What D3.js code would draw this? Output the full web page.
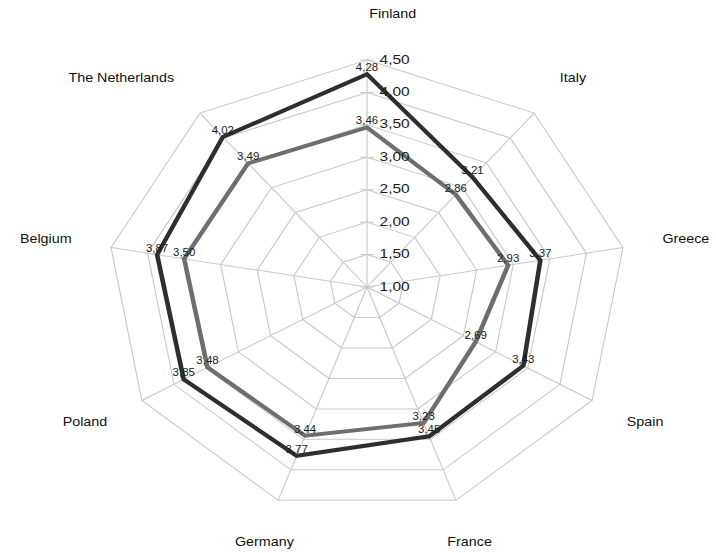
<!DOCTYPE html>
<html><head><meta charset="utf-8">
<script src="https://cdn.jsdelivr.net/npm/d3@7"></script>
<style>body{margin:0;background:#fff}</style></head><body>
<script>
const categories = ["Finland","Italy","Greece","Spain","France","Germany","Poland","Belgium","The Netherlands"];
const seriesDark = [4.28,3.21,3.37,3.43,3.45,3.77,3.85,3.87,4.02];
const seriesGray = [3.46,2.86,2.93,2.69,3.23,3.44,3.48,3.50,3.49];
const tickValues = [1.00,1.50,2.00,2.50,3.00,3.50,4.00,4.50];

const W = 716, H = 553;
const cx = 367, cy = 287, stretch = 1.145, R = 227;
const svg = d3.select("body").append("svg").attr("width", W).attr("height", H)
  .style("font-family", "'Liberation Sans', Arial, sans-serif");
const g = svg.append("g").attr("transform", `translate(${cx},${cy}) scale(${stretch},1)`);

const r = d3.scaleLinear().domain([1, 4.5]).range([0, R]);
const n = categories.length;
const ang = d3.scaleLinear().domain([0, n]).range([0, 2 * Math.PI]);
const pt = (i, v) => [r(v) * Math.sin(ang(i)), -r(v) * Math.cos(ang(i))];
const fmt = v => d3.format(".2f")(v).replace(".", ",");
const idx = d3.range(n);

// grid rings
const ring = d3.line().curve(d3.curveLinearClosed);
g.selectAll("path.ring").data(tickValues.slice(1)).enter().append("path")
  .attr("class", "ring")
  .attr("d", v => ring(idx.map(i => pt(i, v))))
  .attr("fill", "none").attr("stroke", "#c8c8c8").attr("stroke-width", 1);

// spokes
g.selectAll("line.spoke").data(idx).enter().append("line")
  .attr("x1", 0).attr("y1", 0)
  .attr("x2", i => pt(i, 4.5)[0]).attr("y2", i => pt(i, 4.5)[1])
  .attr("stroke", "#c8c8c8").attr("stroke-width", 1);

// tick marks on vertical axis
g.selectAll("line.tick").data(tickValues).enter().append("line")
  .attr("x1", -6).attr("x2", 6)
  .attr("y1", v => -r(v)).attr("y2", v => -r(v))
  .attr("stroke", "#c8c8c8").attr("stroke-width", 1);

// series
const series = [
  {vals: seriesDark, color: "#2e2e2e"},
  {vals: seriesGray, color: "#6e6e6e"}
];
series.forEach(s => {
  g.append("path")
    .attr("d", ring(s.vals.map((v, i) => pt(i, v))))
    .attr("fill", "none").attr("stroke", s.color)
    .attr("stroke-width", 4).attr("stroke-linejoin", "miter");
});

// tick labels
g.selectAll("text.tl").data(tickValues).enter().append("text")
  .attr("x", 11).attr("y", v => -r(v))
  .attr("dominant-baseline", "middle")
  .attr("font-size", 13.5).attr("fill", "#1a1a1a")
  .text(fmt);

// data labels
series.forEach(s => {
  g.selectAll(null).data(s.vals).enter().append("text")
    .attr("x", (v, i) => pt(i, v)[0])
    .attr("y", (v, i) => pt(i, v)[1] - 3)
    .attr("text-anchor", "middle")
    .attr("font-size", 10).attr("fill", "#1a1a1a")
    .text(fmt);
});

// category labels
g.selectAll("text.cat").data(categories).enter().append("text")
  .attr("x", (c, i) => i === 0 ? 2 : 262 * Math.sin(ang(i)))
  .attr("y", (c, i) => -272 * Math.cos(ang(i)))
  .attr("dominant-baseline", "middle")
  .attr("text-anchor", (c, i) => {
    const s = Math.sin(ang(i));
    if (i === 0) return "start";
    if (Math.abs(s) < 0.5) return "middle";
    return s > 0 ? "start" : "end";
  })
  .attr("font-size", 12.5).attr("fill", "#111")
  .text(d => d);
</script>
</body></html>
